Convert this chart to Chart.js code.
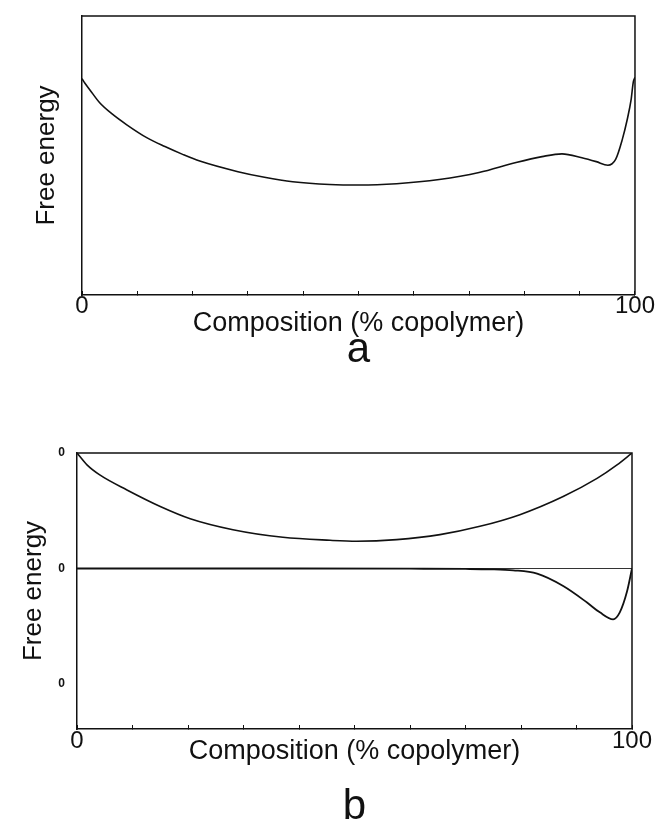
<!DOCTYPE html>
<html>
<head>
<meta charset="utf-8">
<script src="https://cdn.jsdelivr.net/npm/chart.js@4.4.1/dist/chart.umd.min.js"></script>
<style>
  html, body { margin: 0; padding: 0; background: #fff; }
  #wrapA { position: absolute; left: 0; top: 0; width: 656px; height: 400px; }
  #wrapB { position: absolute; left: 0; top: 400px; width: 656px; height: 431px; }
</style>
</head>
<body>
<div id="wrapA"><canvas id="chartA" width="656" height="400"></canvas></div>
<div id="wrapB"><canvas id="chartB" width="656" height="431"></canvas></div>
<script>
// ---------- data ----------
const compA   = [0, 0.5, 1.4, 3.2, 5.5, 8.1, 11.7, 15, 18.2, 21.3, 28.2, 33, 38.1, 44.8, 50.2, 56.9, 64.6, 71.8, 78.5, 83.2, 86.8, 90.4, 93, 95.1, 96.5, 97.7, 98.6, 99.3, 99.7, 100];
const energyA = [77.5, 76, 73.6, 68.9, 64.8, 61, 56.4, 53.2, 50.4, 48, 44.2, 42.2, 40.6, 39.6, 39.4, 39.9, 41.4, 43.9, 47.5, 49.6, 50.6, 49.2, 47.8, 46.5, 48.6, 55.7, 62.9, 70, 76.4, 78];

const compBUpper   = [0, 1.8, 4.1, 9, 15, 20.4, 28.1, 37.1, 45.6, 50.4, 57.6, 65.4, 72.6, 79.8, 87.6, 93.7, 97.3, 100];
const energyBUpper = [1.0, 0.897, 0.81, 0.68, 0.537, 0.431, 0.336, 0.27, 0.244, 0.236, 0.25, 0.293, 0.365, 0.466, 0.623, 0.78, 0.897, 1.0];

const compBLower   = [0, 20, 40, 60, 70, 74.4, 78.6, 82.9, 87.6, 91.9, 94.2, 96.6, 97.8, 99.1, 100];
const energyBLower = [0, 0, 0, -0.002, -0.004, -0.007, -0.016, -0.045, -0.152, -0.295, -0.38, -0.44, -0.38, -0.2, 0];

const xTickLabels  = { 0: '0', 100: '100' };
const yTickValuesB = [1, 0, -1];
const yTickLabelsB = ['0', '0', '0'];
const xTitle = 'Composition (% copolymer)';
const yTitle = 'Free energy';

// ---------- helpers ----------
const FONT = "'Liberation Sans', Arial, Helvetica, sans-serif";
const toPts = (xs, ys) => xs.map((x, i) => ({ x: x, y: ys[i] }));

const frameTopRight = {
  id: 'frameTopRight',
  afterDraw(chart) {
    const { ctx, chartArea: a } = chart;
    ctx.save();
    ctx.strokeStyle = '#111';
    ctx.lineWidth = 1.5;
    ctx.beginPath();
    ctx.moveTo(a.left, a.top);
    ctx.lineTo(a.right, a.top);
    ctx.lineTo(a.right, a.bottom);
    ctx.stroke();
    ctx.restore();
  }
};

function lineDs(pts, width) {
  return {
    data: pts,
    borderColor: '#111',
    borderWidth: width,
    pointRadius: 0,
    fill: false,
    cubicInterpolationMode: 'monotone'
  };
}

function xScale(axisHeight, labelPad, titlePadBottom) {
  return {
    type: 'linear',
    min: 0, max: 100,
    afterFit(s) { s.height = axisHeight; },
    ticks: {
      stepSize: 10,
      autoSkip: false,
      maxRotation: 0,
      padding: labelPad,
      color: '#111',
      font: { family: FONT, size: 24 },
      callback: v => (xTickLabels[v] !== undefined ? xTickLabels[v] : '')
    },
    grid: {
      drawOnChartArea: false,
      drawTicks: true,
      tickLength: -4,
      tickColor: '#111',
      tickWidth: 1
    },
    border: { display: true, color: '#111', width: 1.5 },
    title: {
      display: true,
      text: xTitle,
      color: '#111',
      font: { family: FONT, size: 27 },
      padding: { top: 0, bottom: titlePadBottom }
    }
  };
}

function caption(text, padTop, padBottom) {
  return {
    display: true,
    position: 'bottom',
    fullSize: false,
    text: text,
    color: '#111',
    font: { family: FONT, size: 42, weight: 'normal', lineHeight: 0.5 },
    padding: { top: padTop, bottom: padBottom }
  };
}

// ---------- chart a ----------
new Chart(document.getElementById('chartA'), {
  type: 'line',
  data: { datasets: [lineDs(toPts(compA, energyA), 1.6)] },
  options: {
    responsive: false,
    animation: false,
    layout: { padding: { top: 16, right: 20, left: 0, bottom: 0 } },
    plugins: {
      legend: { display: false },
      tooltip: { enabled: false },
      title: caption('a', 0, 39)
    },
    scales: {
      x: xScale(45, 1, 0),
      y: {
        type: 'linear',
        min: 0, max: 100,
        afterFit(s) { s.width = 82; },
        ticks: { display: false },
        grid: { display: false },
        border: { display: true, color: '#111', width: 1.5 },
        title: {
          display: true,
          text: yTitle,
          color: '#111',
          font: { family: FONT, size: 26 },
          padding: { top: 31, bottom: 0 }
        }
      }
    }
  },
  plugins: [frameTopRight]
});

// ---------- chart b ----------
new Chart(document.getElementById('chartB'), {
  type: 'line',
  data: {
    datasets: [
      lineDs(toPts(compBUpper, energyBUpper), 1.6),
      lineDs(toPts(compBLower, energyBLower), 1.8)
    ]
  },
  options: {
    responsive: false,
    animation: false,
    layout: { padding: { top: 53, right: 24, left: 0, bottom: 0 } },
    plugins: {
      legend: { display: false },
      tooltip: { enabled: false },
      title: caption('b', 23, 13)
    },
    scales: {
      x: xScale(45, 2, 6),
      y: {
        type: 'linear',
        min: -1.39, max: 1,
        afterFit(s) { s.width = 77; },
        afterBuildTicks(s) { s.ticks = yTickValuesB.map(v => ({ value: v })); },
        ticks: {
          padding: 12,
          color: '#111',
          font: { family: FONT, size: 12, weight: 'bold' },
          callback: (v, i) => yTickLabelsB[i]
        },
        grid: {
          drawTicks: false,
          drawOnChartArea: true,
          color: ctx => (ctx.tick && ctx.tick.value === 0 ? '#333' : 'rgba(0,0,0,0)'),
          lineWidth: 1
        },
        border: { display: true, color: '#111', width: 1.5 },
        title: {
          display: true,
          text: yTitle,
          color: '#111',
          font: { family: FONT, size: 26 },
          padding: { top: 18, bottom: 0 }
        }
      }
    }
  },
  plugins: [frameTopRight]
});
</script>
</body>
</html>
